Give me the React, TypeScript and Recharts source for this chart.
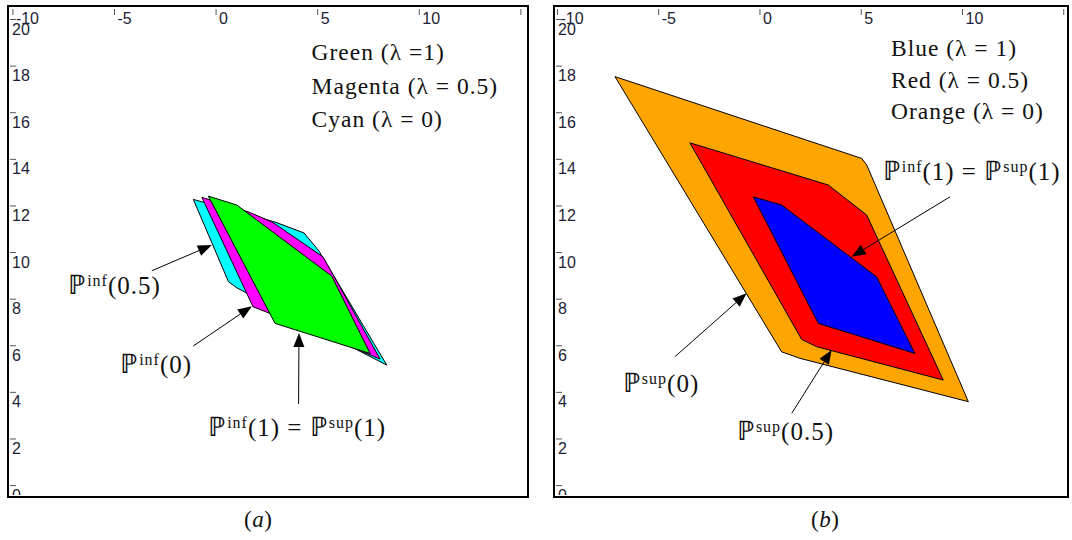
import React from 'react';
import { ScatterChart, Scatter, XAxis, YAxis } from 'recharts';

type Pt = { x: number; y: number };

// shared axes
const xTicks = [-10, -5, 0, 5, 10, 15];
const yTicks = [0, 2, 4, 6, 8, 10, 12, 14, 16, 18, 20];
const yDomain: [number, number] = [-0.49, 20.58];

// panel (a): lower bounds P_inf(lambda)
const cyanA: Pt[] = [
  { x: -1.12, y: 12.28 }, { x: 2.9, y: 11.31 }, { x: 4.33, y: 10.84 }, { x: 5.07, y: 10.06 },
  { x: 8.4, y: 5.17 }, { x: 1.03, y: 8.48 }, { x: 0.61, y: 8.75 },
];
const magentaA: Pt[] = [
  { x: -0.7, y: 12.37 }, { x: 1.57, y: 11.75 }, { x: 2.76, y: 11.31 }, { x: 5.27, y: 9.81 },
  { x: 8.07, y: 5.43 }, { x: 2.56, y: 7.42 }, { x: 1.82, y: 7.67 },
];
const greenA: Pt[] = [
  { x: -0.38, y: 12.42 }, { x: 1.02, y: 12.04 }, { x: 5.69, y: 8.99 }, { x: 7.58, y: 5.67 }, { x: 2.9, y: 6.96 },
];

// panel (b): upper bounds P_sup(lambda)
const orangeB: Pt[] = [
  { x: -7.16, y: 17.55 }, { x: 5.02, y: 14.04 }, { x: 5.27, y: 13.76 }, { x: 10.29, y: 3.6 },
  { x: 1.98, y: 5.46 }, { x: 1.07, y: 5.74 },
];
const redB: Pt[] = [
  { x: -3.46, y: 14.71 }, { x: 3.37, y: 12.9 }, { x: 5.27, y: 11.61 }, { x: 9.05, y: 4.53 },
  { x: 2.8, y: 5.96 }, { x: 2.06, y: 6.27 },
];
const blueB: Pt[] = [
  { x: -0.33, y: 12.39 }, { x: 1.07, y: 12.04 }, { x: 5.76, y: 8.96 }, { x: 7.65, y: 5.67 }, { x: 2.88, y: 6.96 },
];

// arrows: [from, tip]
const arrowsA: Pt[][] = [
  [{ x: -3.16, y: 9.22 }, { x: -0.21, y: 10.32 }],
  [{ x: -1.12, y: 5.99 }, { x: 1.76, y: 7.7 }],
  [{ x: 4.06, y: 3.5 }, { x: 4.08, y: 6.55 }],
];
const arrowsB: Pt[][] = [
  [{ x: 9.38, y: 12.39 }, { x: 4.53, y: 9.82 }],
  [{ x: -4.2, y: 5.53 }, { x: -0.66, y: 8.25 }],
  [{ x: 1.57, y: 3.1 }, { x: 3.54, y: 5.82 }],
];

// P labels: each segment is [superscript, trailing text]
type Note = { x: number; y: number; segs: string[][] };
const notesA: Note[] = [
  { x: -7.28, y: 8.2, segs: [['inf', '(0.5)']] },
  { x: -4.72, y: 4.83, segs: [['inf', '(0)']] },
  { x: -0.39, y: 2.12, segs: [['inf', '(1) = '], ['sup', '(1)']] },
];
const notesB: Note[] = [
  { x: 6.06, y: 13.11, segs: [['inf', '(1) = '], ['sup', '(1)']] },
  { x: -6.77, y: 4.01, segs: [['sup', '(0)']] },
  { x: -1.14, y: 1.95, segs: [['sup', '(0.5)']] },
];

const legendA = ['Green (λ =1)', 'Magenta (λ = 0.5)', 'Cyan (λ = 0)'];
const legendAPos: Pt[] = [{ x: 4.7, y: 18.26 }, { x: 4.7, y: 16.82 }, { x: 4.7, y: 15.39 }];
const legendB = ['Blue (λ = 1)', 'Red (λ = 0.5)', 'Orange (λ = 0)'];
const legendBPos: Pt[] = [{ x: 6.47, y: 18.43 }, { x: 6.47, y: 17.06 }, { x: 6.47, y: 15.73 }];

const H = 491;
const TOP = 6;
const SERIF = '"Liberation Serif", "Times New Roman", serif';
const SANS = '"Liberation Sans", Arial, sans-serif';
const TICK_COLOR = '#1d1d35';

// ticks drawn inside the frame; only the data coordinate from recharts is used
const XTick = (p: any) => {
  const { x, payload } = p;
  return (
    <g>
      <line x1={x} x2={x} y1={3} y2={9} stroke="#555" strokeWidth={1} />
      {payload.value !== 15 && (
        <text x={x + 3} y={18} fontSize={16} fontFamily={SANS} fill={TICK_COLOR} textAnchor="start">
          {payload.value}
        </text>
      )}
    </g>
  );
};

const YTick = (p: any) => {
  const { y, payload } = p;
  return (
    <g>
      <line x1={2} x2={8} y1={y} y2={y} stroke="#555" strokeWidth={1} />
      <svg x={0} y={y} width={34} height={Math.max(1, H - 2 - y)} overflow="hidden">
        <text x={4} y={15} fontSize={16} fontFamily={SANS} fill={TICK_COLOR} textAnchor="start">
          {payload.value}
        </text>
      </svg>
    </g>
  );
};

const noShape = () => <g />;

const polyLine = (fill: string) => (p: any) => (
  <polygon
    points={p.points.map((q: any) => `${q.x},${q.y}`).join(' ')}
    fill={fill}
    stroke="#000"
    strokeWidth={1}
    strokeLinejoin="round"
  />
);

const arrowLine = (p: any) => {
  const [a, b] = p.points;
  const dx = b.x - a.x;
  const dy = b.y - a.y;
  const len = Math.hypot(dx, dy) || 1;
  const ux = dx / len;
  const uy = dy / len;
  const hl = 14;
  const hw = 5.5;
  const bx = b.x - ux * hl;
  const by = b.y - uy * hl;
  return (
    <g>
      <line x1={a.x} y1={a.y} x2={bx} y2={by} stroke="#000" strokeWidth={1} />
      <polygon points={`${b.x},${b.y} ${bx - uy * hw},${by + ux * hw} ${bx + uy * hw},${by - ux * hw}`} fill="#000" />
    </g>
  );
};

const noteShape = (segs: string[][]) => (p: any) => (
  <text x={p.cx} y={p.cy} fontFamily={SERIF} fontSize={25} fill="#111" letterSpacing={1}>
    {segs.map((s, i) => (
      <React.Fragment key={i}>
        <tspan fontSize={27}>{'\u2119'}</tspan>
        <tspan fontSize={16} dy={-8}>{s[0]}</tspan>
        <tspan dy={8} style={{ whiteSpace: 'pre' }}>{s[1]}</tspan>
      </React.Fragment>
    ))}
  </text>
);

const legendShape = (label: string) => (p: any) => (
  <text x={p.cx} y={p.cy} fontFamily={SERIF} fontSize={23.5} fill="#111" letterSpacing={1}>
    {label}
  </text>
);

function Panel({ left, width, xDomain, polys, arrows, notes, legend, legendPos }: any) {
  return (
    <div style={{ position: 'absolute', left, top: TOP, width, height: H }}>
      <ScatterChart width={width} height={H} margin={{ top: 0, right: 0, bottom: 0, left: 0 }}>
        <XAxis
          type="number"
          dataKey="x"
          domain={xDomain}
          ticks={xTicks}
          orientation="top"
          mirror
          axisLine={false}
          tickLine={false}
          interval={0}
          allowDataOverflow
          tick={XTick}
        />
        <YAxis
          type="number"
          dataKey="y"
          domain={yDomain}
          ticks={yTicks}
          mirror
          axisLine={false}
          tickLine={false}
          interval={0}
          allowDataOverflow
          tick={YTick}
        />
        {polys.map((pl: any, i: number) => (
          <Scatter
            key={'p' + i}
            data={pl.data}
            shape={noShape}
            line={polyLine(pl.fill)}
            lineType="joint"
            isAnimationActive={false}
          />
        ))}
        {arrows.map((a: Pt[], i: number) => (
          <Scatter key={'a' + i} data={a} shape={noShape} line={arrowLine} lineType="joint" isAnimationActive={false} />
        ))}
        {notes.map((n: Note, i: number) => (
          <Scatter key={'n' + i} data={[{ x: n.x, y: n.y }]} shape={noteShape(n.segs)} isAnimationActive={false} />
        ))}
        {legend.map((l: string, i: number) => (
          <Scatter key={'l' + i} data={[legendPos[i]]} shape={legendShape(l)} isAnimationActive={false} />
        ))}
      </ScatterChart>
      <div
        style={{
          position: 'absolute',
          left: -1,
          top: -1,
          width: width + 2,
          height: H + 2,
          boxSizing: 'border-box',
          border: '2px solid #000',
          pointerEvents: 'none',
        }}
      />
    </div>
  );
}

const captionStyle: React.CSSProperties = {
  position: 'absolute',
  top: 507,
  fontFamily: SERIF,
  fontSize: 23,
  color: '#111',
  letterSpacing: 0.5,
};

export default function App() {
  return (
    <div style={{ position: 'absolute', left: 0, top: 0, width: 1072, height: 540, background: '#fff' }}>
      <Panel
        left={8}
        width={520}
        xDomain={[-10.24, 15.35]}
        polys={[
          { data: cyanA, fill: '#00ffff' },
          { data: magentaA, fill: '#ff00ff' },
          { data: greenA, fill: '#00ff00' },
        ]}
        arrows={arrowsA}
        notes={notesA}
        legend={legendA}
        legendPos={legendAPos}
      />
      <Panel
        left={554}
        width={514}
        xDomain={[-10.17, 15.21]}
        polys={[
          { data: orangeB, fill: '#ffa500' },
          { data: redB, fill: '#ff0000' },
          { data: blueB, fill: '#0000ff' },
        ]}
        arrows={arrowsB}
        notes={notesB}
        legend={legendB}
        legendPos={legendBPos}
      />
      <div style={{ ...captionStyle, left: 244 }}>
        (<i>a</i>)
      </div>
      <div style={{ ...captionStyle, left: 811 }}>
        (<i>b</i>)
      </div>
    </div>
  );
}
